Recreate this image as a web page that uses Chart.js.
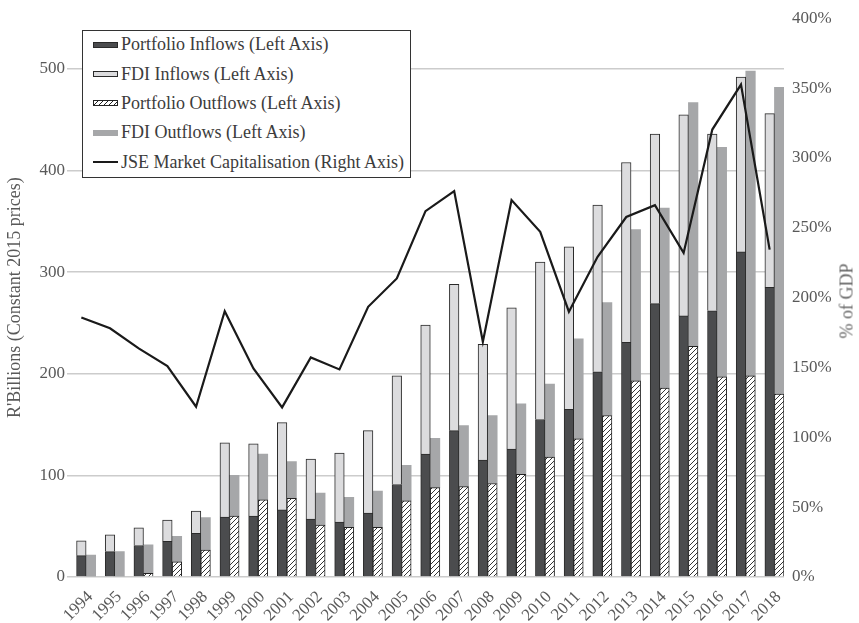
<!DOCTYPE html>
<html>
<head>
<meta charset="utf-8">
<title>Capital flows and JSE market capitalisation</title>
<script src="https://cdn.jsdelivr.net/npm/chart.js@4.4.1/dist/chart.umd.min.js"></script>
<style>
  body { margin: 0; background: #fff; }
  #wrap { position: relative; width: 859px; height: 623px; }
  #legend {
    position: absolute; left: 82px; top: 30px; width: 327px; height: 146px;
    border: 1px solid #333; background: #fff;
    font: 18px "Liberation Serif", serif; color: #3c3c3c;
  }
  .row { height: 29.4px; display: flex; align-items: center; position: relative; top: -1px; }
  .sw { width: 25px; margin: 0 3px 0 10px; box-sizing: border-box; }
  .sw-pi { height: 6px; background: #4b4c4e; border: 1px solid #2a2a2a; }
  .sw-fi { height: 6px; background: #dcdcde; border: 1px solid #2a2a2a; }
  .sw-po { height: 6px; border: 1px solid #222;
    background: repeating-linear-gradient(135deg, #fff 0 2.5px, #222 2.5px 3.5px); }
  .sw-fo { height: 6px; background: #a6a7a9; }
  .sw-ln { height: 2px; background: #1a1a1a; }
  #rtitle {
    position: absolute; left: 847px; top: 301px; white-space: nowrap;
    font: 18px "Liberation Serif", serif; color: #666;
    transform: translate(-50%, -50%) rotate(-90deg);
  }
</style>
</head>
<body>
<div id="wrap">
  <canvas id="flowsChart" width="859" height="623"></canvas>
  <div id="legend"></div>
  <div id="rtitle">% of GDP</div>
</div>
<script>
// R billions, constant 2015 prices
const years = ['1994', '1995', '1996', '1997', '1998', '1999', '2000', '2001', '2002', '2003',
    '2004', '2005', '2006', '2007', '2008', '2009', '2010', '2011', '2012', '2013',
    '2014', '2015', '2016', '2017', '2018'];
const portfolioInflows = [21, 25, 31, 35, 43, 59, 60, 66, 57, 54,
    63, 91, 121, 144, 115, 126, 155, 165, 202, 231,
    269, 257, 262, 320, 285];
const fdiInflows = [14.5, 16.5, 17.5, 21, 22, 73, 71, 86, 59, 68,
    81, 107, 127, 144, 114, 139, 155, 160, 164, 177,
    167, 198, 174, 172, 171];
const portfolioOutflows = [0, 0, 3.6, 15, 26.5, 60, 76, 77.5, 51, 49,
    49, 75, 88, 89, 92, 101, 118, 136, 159, 193,
    186, 227, 197, 198, 180];
const fdiOutflows = [21.5, 25, 28, 25, 32, 40, 45, 36, 31.5, 29.5,
    35.5, 35, 48.5, 60, 67, 69.5, 72, 98.5, 111, 149,
    177, 240, 226, 300, 302];
// % of GDP
const jseMarketCap = [185.8, 178, 163.6, 151, 121.9, 190.3, 149.3, 121.4, 157.2, 148.6,
    193.4, 213.7, 261.9, 276.2, 168.4, 269.8, 247.1, 189.9, 229.2, 257.7,
    266.2, 232, 320.3, 352.5, 234.3];
const leftTicks = [0, 100, 200, 300, 400, 500];

function hatchPattern() {
    let c = document.createElement('canvas');
    c.width = 5;
    c.height = 5;
    let g = c.getContext('2d');
    g.fillStyle = '#fff';
    g.fillRect(0, 0, 5, 5);
    g.strokeStyle = '#1e1e1e';
    g.lineWidth = 0.9;
    g.beginPath();
    g.moveTo(0, 5); g.lineTo(5, 0);
    g.moveTo(-1, 1); g.lineTo(1, -1);
    g.moveTo(4, 6); g.lineTo(6, 4);
    g.stroke();
    return g.createPattern(c, 'repeat');
}

Chart.defaults.font.family = '"Liberation Serif", serif';
Chart.defaults.font.size = 17;
Chart.defaults.color = '#595959';

// empty stack on the left so inflows sit on the category centre, outflows to its right
const spacer = years.map(() => 0);

const datasets = [
    { label: 'spacer', data: spacer, stack: 'pad', backgroundColor: 'rgba(0,0,0,0)', borderWidth: 0, order: 1 },
    { label: 'Portfolio Inflows (Left Axis)', data: portfolioInflows, stack: 'in',
      backgroundColor: '#4b4c4e', borderColor: '#2a2a2a', borderWidth: 1, order: 1, swatch: 'sw-pi' },
    { label: 'FDI Inflows (Left Axis)', data: fdiInflows, stack: 'in',
      backgroundColor: '#dcdcde', borderColor: '#2a2a2a', borderWidth: 1, order: 1, swatch: 'sw-fi' },
    { label: 'Portfolio Outflows (Left Axis)', data: portfolioOutflows, stack: 'out',
      backgroundColor: hatchPattern(), borderColor: '#222', borderWidth: 1, order: 1, swatch: 'sw-po' },
    { label: 'FDI Outflows (Left Axis)', data: fdiOutflows, stack: 'out',
      backgroundColor: '#a6a7a9', borderWidth: 0, order: 1, swatch: 'sw-fo' },
    { type: 'line', label: 'JSE Market Capitalisation (Right Axis)', data: jseMarketCap, yAxisID: 'y1',
      borderColor: '#1a1a1a', borderWidth: 2.2, pointRadius: 0, tension: 0, order: 0, swatch: 'sw-ln' }
];

new Chart(document.getElementById('flowsChart'), {
    type: 'bar',
    data: { labels: years, datasets: datasets },
    options: {
        responsive: false,
        animation: false,
        layout: { padding: { top: 17 } },
        datasets: { bar: { categoryPercentage: 1, barPercentage: 1 } },
        plugins: { legend: { display: false }, tooltip: { enabled: false } },
        scales: {
            x: {
                stacked: true,
                offset: true,
                grid: { display: false },
                border: { display: false },
                ticks: { minRotation: 45, maxRotation: 45, autoSkip: false, padding: 2, labelOffset: 9 },
                afterFit: s => { s.height = 46; }
            },
            y: {
                stacked: true,
                min: 0,
                max: 550,
                afterBuildTicks: s => { s.ticks = leftTicks.map(v => ({ value: v })); },
                ticks: { padding: 2 },
                grid: { color: '#cccccc', lineWidth: 1.5, drawTicks: false },
                border: { display: false },
                title: { display: true, text: "R'Billions (Constant 2015 prices)", font: { size: 18 }, padding: { top: 4, bottom: 0 } },
                afterFit: s => { s.width = 67; }
            },
            y1: {
                position: 'right',
                min: 0,
                max: 400,
                ticks: { stepSize: 50, padding: 8, callback: v => v + '%' },
                grid: { drawOnChartArea: false, drawTicks: false },
                border: { display: false },
                afterFit: s => { s.width = 75; }
            }
        }
    }
});

let legend = document.getElementById('legend');
datasets.filter(d => d.swatch).forEach(d => {
    let row = document.createElement('div');
    row.className = 'row';
    let sw = document.createElement('span');
    sw.className = 'sw ' + d.swatch;
    let txt = document.createElement('span');
    txt.textContent = d.label;
    row.appendChild(sw);
    row.appendChild(txt);
    legend.appendChild(row);
});
</script>
</body>
</html>
